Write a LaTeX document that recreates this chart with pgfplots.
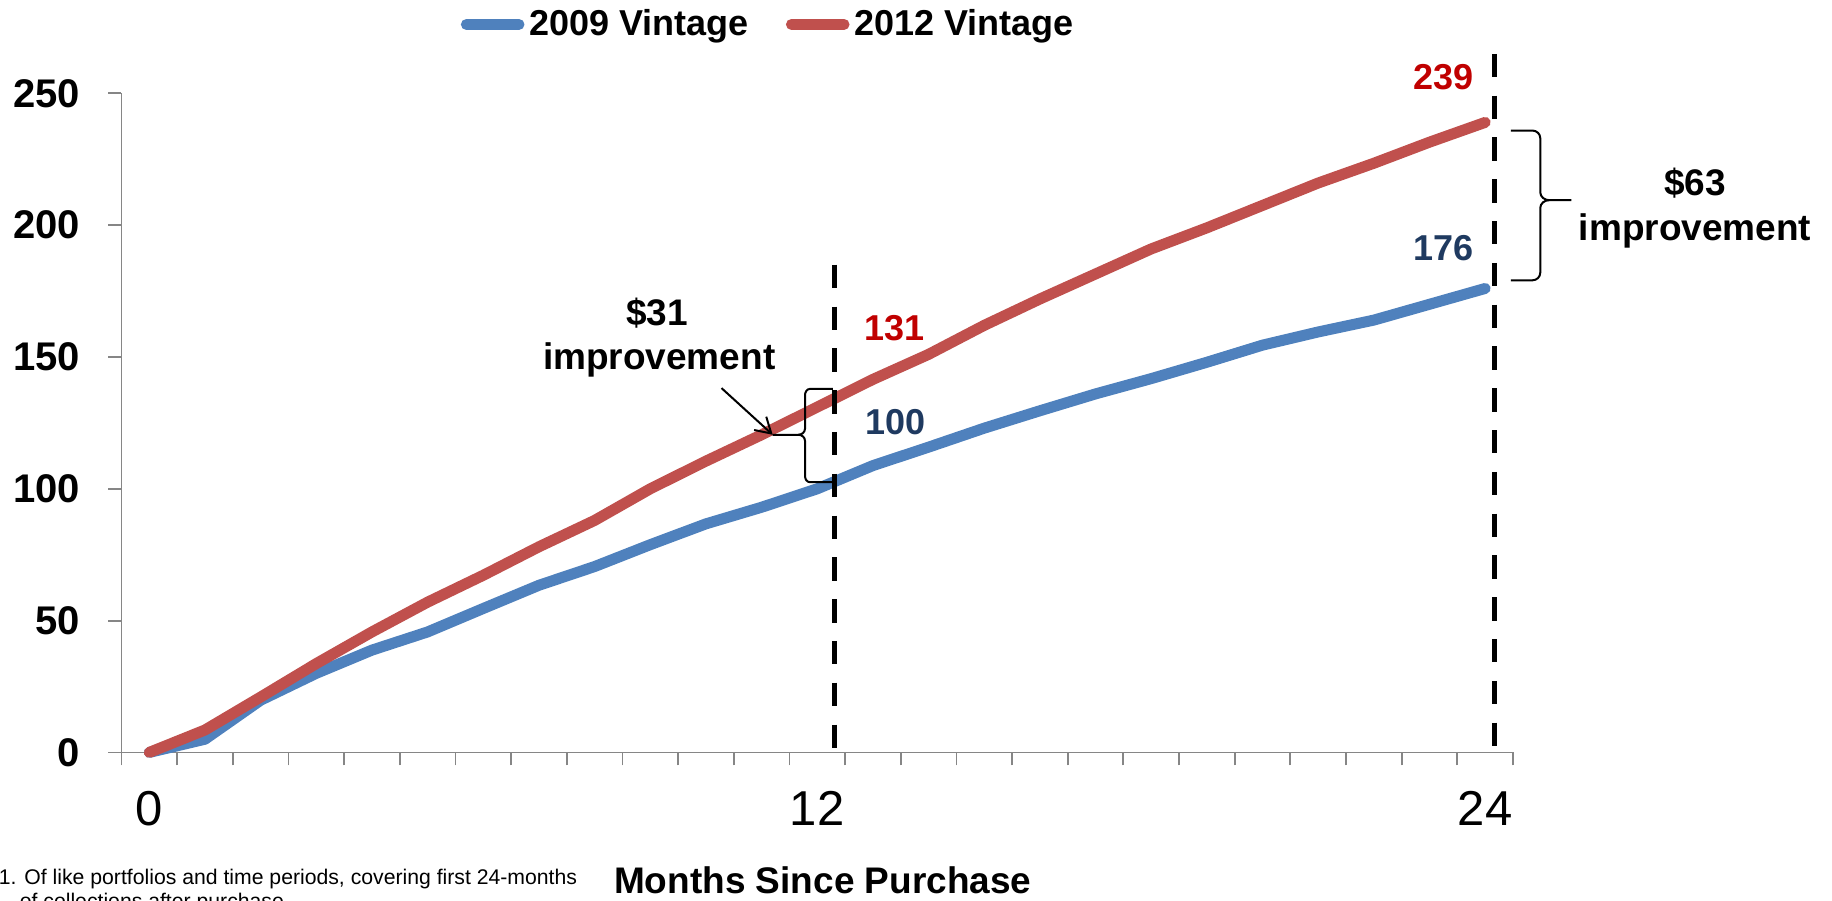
\documentclass[border=0pt]{standalone}
\usepackage{pgfplots}
\pgfplotsset{compat=1.18}
\usepackage{fontspec}
\setmainfont{Liberation Sans}
\usetikzlibrary{arrows.meta}
\definecolor{blueL}{HTML}{4F81BD}
\definecolor{redL}{HTML}{C0504D}
\definecolor{axisgray}{HTML}{868686}
\definecolor{lblred}{HTML}{C00000}
\definecolor{lblnavy}{HTML}{1F3A60}
\begin{document}
\begin{tikzpicture}
\begin{axis}[
  scale only axis, width=695.75pt, height=329.5pt,
  xmin=-0.5, xmax=24.5, ymin=0, ymax=250,
  axis lines*=left,
  axis line style={draw=axisgray, line width=0.9pt},
  xtick={-0.5,0.5,...,24.5}, xticklabels={},
  ytick={0,50,...,250},
  tick align=outside, major tick length=6.5pt,
  tick style={draw=axisgray, line width=0.9pt},
  /pgf/number format/assume math mode=true,
  yticklabel style={font=\bfseries\fontsize{20}{24}\selectfont, anchor=east, inner sep=0pt, xshift=-14pt},
  clip=false,
  legend columns=2,
  legend style={at={(0.466,1.1047)}, anchor=center, draw=none, fill=none,
    font=\bfseries\fontsize{18}{21}\selectfont,
    /tikz/every even column/.append style={column sep=16pt},
    nodes={inner xsep=2.5pt, inner ysep=1pt}},
  legend image code/.code={\draw[#1, line cap=round] (0pt,0pt) -- (26.3pt,0pt);},
]
\addplot[color=blueL, line width=5.5pt, line cap=round, line join=round, mark=none] coordinates {
(0,0) (1,5) (2,19.8) (3,30) (4,38.8) (5,45.7) (6,54.6) (7,63.4) (8,70.5) (9,78.8)
(10,86.7) (11,93) (12,100) (13,108.8) (14,115.8) (15,123) (16,129.6) (17,136)
(18,141.8) (19,148) (20,154.5) (21,159.5) (22,164) (23,170) (24,176)};
\addlegendentry{2009 Vintage}
\addplot[color=redL, line width=5.5pt, line cap=round, line join=round, mark=none] coordinates {
(0,0) (1,8.5) (2,21) (3,33.7) (4,45.7) (5,57) (6,67.2) (7,78) (8,88) (9,100)
(10,110.5) (11,120.5) (12,131) (13,141.5) (14,151) (15,162) (16,172) (17,181.5)
(18,191) (19,199) (20,207.5) (21,216) (22,223.5) (23,231.5) (24,239)};
\addlegendentry{2012 Vintage}

% dashed reference lines
\draw[black, line width=2.7pt, dash pattern=on 11.7pt off 9.2pt] (axis cs:12.31,185) -- (axis cs:12.31,0);
\draw[black, line width=2.7pt, dash pattern=on 11.7pt off 9.2pt] (axis cs:24.17,265) -- (axis cs:24.17,0);

% x labels
\node[anchor=base, font=\fontsize{24.5}{28}\selectfont, yshift=-36.6pt] at (axis cs:0,0) {0};
\node[anchor=base, font=\fontsize{24.5}{28}\selectfont, yshift=-36.6pt] at (axis cs:12,0) {12};
\node[anchor=base, font=\fontsize{24.5}{28}\selectfont, yshift=-36.6pt] at (axis cs:24,0) {24};
\node[anchor=base, font=\bfseries\fontsize{18.5}{21}\selectfont, yshift=-70.3pt] at (rel axis cs:0.504,0) {Months Since Purchase};

% footnote
\node[anchor=base west, inner sep=0pt, font=\fontsize{10.6}{12.5}\selectfont, xshift=-61.5pt, yshift=-65.8pt] at (rel axis cs:0,0) {1. Of like portfolios and time periods, covering first 24-months};
\node[anchor=base west, inner sep=0pt, font=\fontsize{10.6}{12.5}\selectfont, xshift=-51pt, yshift=-78pt] at (rel axis cs:0,0) {of collections after purchase};

% data labels
\node[anchor=base, inner sep=0pt, text=lblred, font=\bfseries\fontsize{18}{21}\selectfont] at (axis cs:13.38,156.2) {131};
\node[anchor=base, inner sep=0pt, text=lblnavy, font=\bfseries\fontsize{18}{21}\selectfont] at (axis cs:13.40,120.6) {100};
\node[anchor=base, inner sep=0pt, text=lblred, font=\bfseries\fontsize{18}{21}\selectfont] at (axis cs:23.26,251.4) {239};
\node[anchor=base, inner sep=0pt, text=lblnavy, font=\bfseries\fontsize{18}{21}\selectfont] at (axis cs:23.26,186.7) {176};

% $31 annotation
\node[anchor=base, inner sep=0pt, font=\bfseries\fontsize{18.5}{21}\selectfont] at (axis cs:9.12,161.8) {\$31};
\node[anchor=base, inner sep=0pt, font=\bfseries\fontsize{18.5}{21}\selectfont] at (axis cs:9.16,145.4) {improvement};
\draw[black, line width=1pt] (axis cs:12.28,137.9) -- (axis cs:11.87,137.9) to[out=180,in=90] (axis cs:11.78,135.5) -- (axis cs:11.78,122.8) to[out=270,in=0] (axis cs:11.66,120.5) -- (axis cs:11.2,120.5);
\draw[black, line width=1pt] (axis cs:11.66,120.5) to[out=0,in=90] (axis cs:11.78,118.2) -- (axis cs:11.78,104.9) to[out=270,in=180] (axis cs:11.87,102.5) -- (axis cs:12.28,102.5);
\draw[black, line width=1pt, -{Straight Barb[length=7.5pt,width=9pt]}] (axis cs:10.28,138.2) -- (axis cs:11.2,120.5);

% $63 annotation
\node[anchor=base, inner sep=0pt, font=\bfseries\fontsize{18.5}{21}\selectfont] at (axis cs:27.77,211.1) {\$63};
\node[anchor=base, inner sep=0pt, font=\bfseries\fontsize{18.5}{21}\selectfont] at (axis cs:27.77,194.3) {improvement};
\draw[black, line width=1pt] (axis cs:24.46,235.9) -- (axis cs:24.85,235.9) to[out=0,in=90] (axis cs:24.99,233) -- (axis cs:24.99,212.5) to[out=270,in=180] (axis cs:25.15,209.5) -- (axis cs:25.55,209.5);
\draw[black, line width=1pt] (axis cs:25.15,209.5) to[out=180,in=90] (axis cs:24.99,206.5) -- (axis cs:24.99,182) to[out=270,in=0] (axis cs:24.85,179.1) -- (axis cs:24.46,179.1);
\end{axis}
\pgfresetboundingbox
\path (current axis.south west) ++(-60.75pt,-73.8pt) rectangle ++(916pt,450pt);
\end{tikzpicture}
\end{document}
